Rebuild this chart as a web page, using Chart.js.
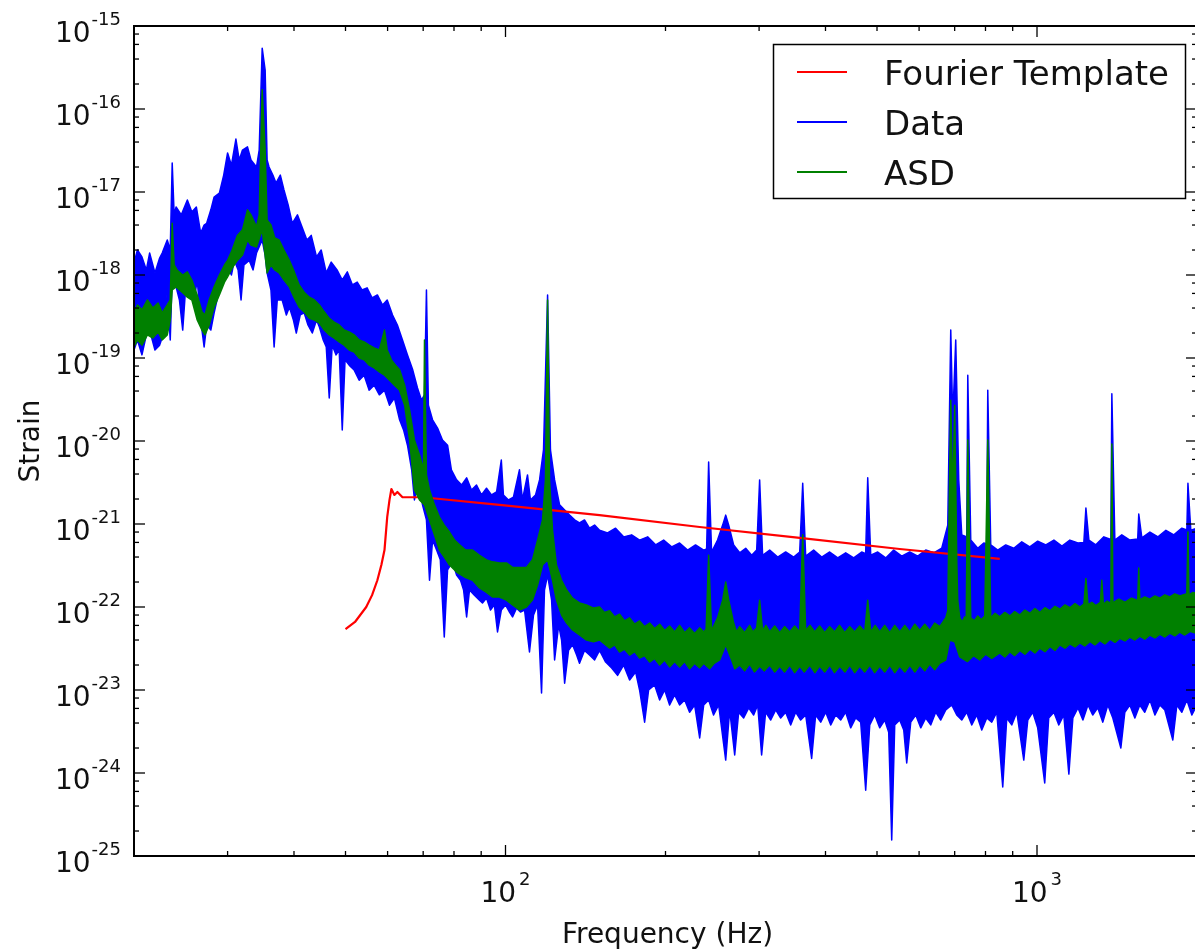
<!DOCTYPE html>
<html>
<head>
<meta charset="utf-8">
<script src="https://cdn.jsdelivr.net/npm/chart.js@4.4.1/dist/chart.umd.min.js"></script>
<style>
html,body{margin:0;padding:0;overflow:hidden;background:#fff;width:1195px;height:951px}
#wrap{position:absolute;left:0;top:0;width:1230px;height:951px}
canvas{display:block}
</style>
</head>
<body>
<div id="wrap"><canvas id="c" width="1230" height="951" style="width:1230px;height:951px"></canvas></div>
<script>
// ---- series labels / colours ----
const seriesLabels = ['Fourier Template', 'Data', 'ASD'];
const seriesColors = ['#ff0000', '#0000ff', '#008000'];

// ---- ticks ----
const xMajorTicks = [100, 1000];
const xTickExponents = ['2', '3'];
const xMinorTicks = [20, 30, 40, 50, 60, 70, 80, 90, 200, 300, 400, 500, 600, 700, 800, 900, 2000];
const yTickExponents = [-15, -16, -17, -18, -19, -20, -21, -22, -23, -24, -25];
const yMinorMantissas = [2, 4, 6, 8];
const xLimits = [20, 2000];
const yLimits = [1e-25, 1e-15];

// ---- Fourier Template [Hz, strain] ----
const templatePoints = [[50,5.4e-23],[52.1,6.6e-23],[54.7,1.0e-22],[56.1,1.39e-22],[57.4,2.1e-22],[58.4,3.2e-22],[59.2,4.85e-22],[59.9,1.21e-21],[60.5,1.95e-21],[61.0,2.64e-21],[61.8,2.24e-21],[62.6,2.43e-21],[64.0,2.1e-21],[69.8,2.1e-21],[97.4,1.7e-21],[150.3,1.28e-21],[231.9,9.2e-22],[357.7,6.8e-22],[551.7,5.0e-22],[851,3.8e-22]];

// ---- Data: upper and lower envelope of the noisy spectrum [Hz, strain] ----
const dataUpper = [[20,1.4e-18],[20.3,2.0e-18],[20.7,1.65e-18],[21.1,1.15e-18],[21.4,1.84e-18],[21.9,1.06e-18],[22.35,1.6e-18],[22.6,1.84e-18],[23.1,2.64e-18],[23.4,2.0e-18],[23.6,2.24e-17],[23.8,5.3e-18],[24.0,6.6e-18],[24.55,5.3e-18],[25.2,8.0e-18],[25.7,5.75e-18],[26.2,6.6e-18],[26.7,3.2e-18],[27.1,4.0e-18],[27.4,4.2e-18],[27.9,6.1e-18],[28.3,8.7e-18],[28.95,9.7e-18],[29.5,1.6e-17],[30.0,2.95e-17],[30.5,2.1e-17],[31.1,4.35e-17],[31.55,2.43e-17],[32.0,3.2e-17],[32.7,3.5e-17],[33.2,2.43e-17],[34.0,2.0e-17],[34.4,3.2e-17],[34.85,5.4e-16],[35.3,2.95e-16],[35.6,2.43e-17],[35.9,2.0e-17],[36.5,1.6e-17],[37.0,1.28e-17],[37.7,1.6e-17],[38.3,1.06e-17],[39.0,7.0e-18],[39.7,4.2e-18],[40.6,5.3e-18],[41.4,3.8e-18],[42.3,2.64e-18],[43.1,3.0e-18],[44.1,1.65e-18],[45.0,2.0e-18],[46.0,1.06e-18],[47.0,1.43e-18],[48.2,1.15e-18],[49.3,8.7e-19],[50.4,1.09e-18],[51.5,7.6e-19],[52.6,8.2e-19],[53.7,6.6e-19],[54.9,7.0e-19],[56.1,5.3e-19],[57.4,5.75e-19],[58.7,4.35e-19],[59.9,5.0e-19],[61.3,3.3e-19],[62.6,2.5e-19],[64.0,1.65e-19],[65.4,1.09e-19],[66.9,7.2e-20],[68.3,4.35e-20],[69.5,3.1e-20],[70.4,3.6e-20],[71.0,6.6e-19],[71.6,2.7e-20],[72.9,1.8e-20],[74.5,1.43e-20],[76.1,1.03e-20],[77.8,8.9e-21],[79.1,4.5e-21],[80.9,3.4e-21],[82.7,2.95e-21],[84.5,3.6e-21],[86.3,2.57e-21],[88.2,2.95e-21],[90.1,2.24e-21],[92.1,2.7e-21],[94.1,2.24e-21],[96.2,2.43e-21],[98.2,5.9e-21],[99.1,2.24e-21],[101.3,1.95e-21],[103.5,2.1e-21],[106.25,4.5e-21],[107.6,1.95e-21],[110.0,3.9e-21],[111.4,1.95e-21],[113.9,2.24e-21],[115.9,3.4e-21],[117.9,7.8e-21],[120.0,5.75e-19],[121.5,7.8e-21],[123.7,3.4e-21],[126.4,1.7e-21],[129.2,1.47e-21],[132.0,1.28e-21],[134.9,1.12e-21],[137.8,1.03e-21],[140.8,1.12e-21],[143.9,8.9e-22],[147.1,9.7e-22],[150.3,8.4e-22],[155.6,7.8e-22],[161.1,8.9e-22],[166.8,7.0e-22],[172.7,7.4e-22],[178.75,6.4e-22],[185.1,7.0e-22],[191.6,5.6e-22],[198.4,6.4e-22],[205.4,5.3e-22],[212.6,5.9e-22],[220.1,4.85e-22],[227.8,5.6e-22],[236.0,4.85e-22],[239.0,5.0e-22],[241.1,5.6e-21],[244.2,4.6e-22],[250.6,6.4e-22],[256.2,9.7e-22],[259.6,1.28e-21],[263.0,9.7e-22],[268.7,5.6e-22],[275.8,4.5e-22],[283.1,5.1e-22],[290.5,4.2e-22],[296.9,4.85e-22],[300.7,3.4e-21],[304.6,4.2e-22],[314.1,4.85e-22],[325.2,4.0e-22],[336.6,4.6e-22],[348.5,4.0e-22],[357.7,4.6e-22],[362.4,3.1e-21],[367.1,4.1e-22],[380.0,4.85e-22],[393.5,4.0e-22],[407.4,4.6e-22],[421.8,3.9e-22],[436.6,4.5e-22],[452.0,3.9e-22],[467.9,4.6e-22],[476.0,4.4e-22],[480.3,3.6e-21],[486.6,4.2e-22],[501.6,4.6e-22],[519.2,3.9e-22],[537.5,4.85e-22],[556.5,4.1e-22],[576.2,4.6e-22],[596.5,4.1e-22],[617.5,4.85e-22],[639.3,4.5e-22],[661.9,5.1e-22],[679.4,9.7e-22],[688.2,2.17e-19],[694.2,1.8e-20],[703.2,1.65e-19],[712.5,3.4e-21],[721.8,7.4e-22],[737.6,7.0e-22],[740.9,6.2e-20],[750.5,6.4e-22],[773.7,5.1e-22],[794.1,5.9e-22],[804.4,5.8e-22],[807.9,4.1e-20],[818.4,5.6e-22],[843.7,4.85e-22],[873.4,5.6e-22],[904.3,5.1e-22],[936.2,6.1e-22],[969.2,5.3e-22],[1003,6.2e-22],[1039,5.6e-22],[1076,6.4e-22],[1114,5.4e-22],[1153,6.4e-22],[1194,5.9e-22],[1225,6.0e-22],[1236,1.56e-21],[1252,6.4e-22],[1290,5.6e-22],[1336,7.0e-22],[1377,6.5e-22],[1383,3.7e-20],[1401,6.4e-22],[1444,7.4e-22],[1495,6.4e-22],[1547,6.6e-22],[1554,1.32e-21],[1575,6.8e-22],[1631,8.0e-22],[1689,7.0e-22],[1748,8.4e-22],[1809,7.4e-22],[1873,8.9e-22],[1914,8.5e-22],[1923,3.1e-21],[1947,8.4e-22],[2000,8.9e-22]];

const dataLower = [[20,1.25e-19],[20.3,1.65e-19],[20.7,1.09e-19],[21.1,1.9e-19],[21.4,2.17e-19],[21.9,1.25e-19],[22.35,1.43e-19],[22.85,2.17e-19],[23.1,6.6e-19],[23.4,1.65e-19],[23.6,1.0e-18],[24.0,7.2e-19],[24.35,5.0e-19],[24.7,2.17e-19],[25.0,6.6e-19],[25.4,7.2e-19],[25.95,5.0e-19],[26.3,8.7e-19],[26.7,2.87e-19],[27.1,1.36e-19],[27.4,2.5e-19],[27.9,2.17e-19],[28.3,3.5e-19],[28.8,5.75e-19],[29.2,1.06e-18],[30.0,1.25e-18],[30.5,1.0e-18],[30.9,1.5e-18],[31.4,1.15e-18],[31.8,5.0e-19],[32.2,1.32e-18],[32.95,1.5e-18],[33.5,1.15e-18],[34.0,1.84e-18],[34.85,2.64e-18],[35.3,1.74e-18],[35.6,1.06e-18],[36.2,6.6e-19],[36.7,1.36e-19],[37.2,5.0e-19],[38.0,5.0e-19],[38.7,3.3e-19],[39.2,4.1e-19],[39.9,2.87e-19],[40.4,2.0e-19],[41.1,3.3e-19],[41.8,3.5e-19],[42.5,2.5e-19],[43.3,2.0e-19],[44.1,2.87e-19],[44.65,2.36e-19],[45.4,1.65e-19],[46.0,1.36e-19],[46.6,3.3e-20],[47.2,1.43e-19],[48.0,1.09e-19],[48.65,1.25e-19],[49.3,1.36e-20],[49.9,9.5e-20],[50.8,8.2e-20],[51.9,7.2e-20],[53.05,5.4e-20],[54.2,6.2e-20],[55.4,4.1e-20],[56.6,4.7e-20],[57.9,3.6e-20],[59.2,4.1e-20],[60.5,2.7e-20],[61.8,3.3e-20],[63.2,1.8e-20],[64.3,1.36e-20],[65.4,8.9e-21],[66.6,4.5e-21],[67.4,1.95e-21],[68.6,3.4e-21],[69.8,1.7e-21],[71.0,1.12e-21],[71.95,2.1e-22],[72.9,6.4e-22],[74.2,4.85e-22],[75.4,3.7e-22],[76.7,4.35e-23],[77.8,2.8e-22],[79.5,3.5e-22],[80.9,2.43e-22],[82.3,2.1e-22],[83.4,1.6e-22],[84.5,7.6e-23],[85.55,1.6e-22],[87.4,1.39e-22],[89.35,1.21e-22],[90.5,1.12e-22],[92.1,1.28e-22],[93.7,9.2e-23],[95.3,1.06e-22],[96.6,5.0e-23],[98.2,9.2e-23],[100,1.06e-22],[101.75,8.7e-23],[103.1,7.6e-23],[104.9,9.7e-23],[106.7,8.7e-23],[108.6,9.2e-23],[110.95,2.87e-23],[112.9,8.0e-23],[114.9,1.06e-22],[116.9,9.2e-24],[118.4,1.6e-22],[120.0,2.43e-22],[122.1,1.21e-22],[123.7,2.3e-23],[125.9,6.1e-23],[127.5,4.0e-23],[129.2,1.21e-23],[131.4,3.0e-23],[133.7,3.5e-23],[136.1,2.64e-23],[137.8,2.1e-23],[140.8,3.0e-23],[143.9,2.64e-23],[147.1,2.3e-23],[150.3,3.0e-23],[154.3,2.17e-23],[158.4,1.84e-23],[162.5,1.5e-23],[166.8,2.0e-23],[171.2,1.32e-23],[175.7,1.65e-23],[178.75,1.0e-23],[182.7,4.1e-24],[185.9,1.0e-23],[190.8,1.15e-23],[195.0,7.6e-24],[199.3,1.0e-23],[203.6,6.6e-24],[208.1,8.7e-24],[212.6,6.6e-24],[217.3,7.6e-24],[222.0,5.4e-24],[226.9,6.6e-24],[231.9,2.64e-24],[236.0,6.6e-24],[241.1,7.6e-24],[246.3,5.0e-24],[251.8,6.6e-24],[259.6,1.43e-24],[264.1,5.75e-24],[269.9,1.65e-24],[274.6,5.4e-24],[280.6,4.6e-24],[286.8,6.1e-24],[293.0,5.0e-24],[298.2,6.6e-24],[303.3,1.65e-24],[308.6,5.4e-24],[315.5,4.35e-24],[322.4,5.75e-24],[329.4,4.6e-24],[336.6,5.4e-24],[344.0,3.8e-24],[351.5,5.4e-24],[359.2,4.35e-24],[367.1,5.0e-24],[376.7,1.5e-24],[383.3,5.0e-24],[391.8,4.1e-24],[400.4,5.4e-24],[409.2,3.8e-24],[418.1,5.0e-24],[427.2,4.35e-24],[436.6,5.4e-24],[446.1,3.5e-24],[455.9,4.6e-24],[465.9,4.1e-24],[476.1,6.2e-25],[484.5,3.8e-24],[495.1,5.0e-24],[505.9,3.5e-24],[517.0,4.35e-24],[526.0,3.1e-24],[532.9,1.56e-25],[539.9,3.8e-24],[551.7,4.35e-24],[561.4,3.3e-24],[568.7,1.32e-24],[578.7,4.1e-24],[591.4,5.0e-24],[604.3,3.5e-24],[617.5,4.6e-24],[631.0,3.8e-24],[644.8,5.4e-24],[659.0,4.35e-24],[673.5,5.75e-24],[691.2,6.6e-24],[706.3,5.0e-24],[721.8,4.35e-24],[737.6,5.4e-24],[753.8,3.8e-24],[770.3,5.0e-24],[787.2,3.3e-24],[804.4,4.6e-24],[822.0,4.1e-24],[840.0,5.4e-24],[862.1,6.8e-25],[877.2,4.6e-24],[896.4,3.8e-24],[916.1,5.4e-24],[944.3,1.43e-24],[960.9,4.35e-24],[981.9,5.4e-24],[1003,3.5e-24],[1034,7.6e-25],[1052,4.6e-24],[1076,5.4e-24],[1099,3.8e-24],[1123,5.0e-24],[1148,9.7e-25],[1168,4.6e-24],[1194,6.1e-24],[1220,4.35e-24],[1247,6.6e-24],[1273,5.0e-24],[1301,6.1e-24],[1330,4.1e-24],[1359,6.6e-24],[1389,4.6e-24],[1438,2.0e-24],[1463,5.4e-24],[1495,6.6e-24],[1528,4.6e-24],[1561,6.6e-24],[1595,5.4e-24],[1631,7.6e-24],[1667,5.0e-24],[1703,6.6e-24],[1740,5.75e-24],[1801,2.5e-24],[1833,6.6e-24],[1873,5.4e-24],[1914,7.6e-24],[1956,5.0e-24],[2000,6.6e-24]];

// ---- ASD: upper and lower edge of the band [Hz, strain] ----
const asdUpper = [[20,3.5e-19],[20.3,4.35e-19],[20.7,3.8e-19],[21.2,5.0e-19],[21.7,4.0e-19],[22.2,4.6e-19],[22.6,3.5e-19],[23.1,4.35e-19],[23.4,5.0e-19],[23.6,4.2e-18],[23.8,1.32e-18],[24.1,1.15e-18],[24.7,1.0e-18],[25.2,1.09e-18],[25.7,8.7e-19],[26.3,5.75e-19],[26.85,3.6e-19],[27.2,3.3e-19],[27.7,5.0e-19],[28.3,7.2e-19],[28.95,1.0e-18],[29.6,1.32e-18],[30.0,1.5e-18],[30.6,2.0e-18],[31.3,3.0e-18],[32.0,3.5e-18],[32.7,6.1e-18],[33.2,5.3e-18],[34.0,3.8e-18],[34.4,5.3e-18],[34.85,1.7e-16],[35.3,3.2e-17],[35.6,4.6e-18],[36.2,4.0e-18],[36.8,2.8e-18],[37.5,2.64e-18],[38.3,2.0e-18],[39.2,1.5e-18],[40.05,1.09e-18],[40.9,7.6e-19],[41.8,6.2e-19],[42.75,5.4e-19],[43.7,5.0e-19],[44.65,4.35e-19],[45.6,3.6e-19],[46.6,3.0e-19],[47.6,2.7e-19],[48.65,2.5e-19],[49.7,2.17e-19],[50.8,2.06e-19],[51.9,1.9e-19],[53.05,1.65e-19],[54.2,1.56e-19],[55.4,1.43e-19],[56.6,1.32e-19],[57.9,1.25e-19],[59.2,2.17e-19],[59.9,1.25e-19],[61.0,9.5e-20],[62.1,8.2e-20],[63.2,7.2e-20],[64.6,4.7e-20],[66.0,2.36e-20],[67.4,1.03e-20],[68.9,6.8e-21],[70.1,4.5e-21],[70.4,1.65e-19],[71.0,3.9e-21],[71.95,2.57e-21],[73.5,1.7e-21],[75.1,1.21e-21],[76.7,9.7e-22],[78.45,8.0e-22],[80.2,6.4e-22],[81.95,5.6e-22],[84.1,4.85e-22],[86.7,4.85e-22],[89.35,4.2e-22],[92.1,3.7e-22],[94.5,3.5e-22],[97.4,3.4e-22],[100.4,3.4e-22],[103.1,3.0e-22],[106.25,3.0e-22],[109.5,3.0e-22],[112.4,3.7e-22],[114.9,6.4e-22],[117.4,1.12e-21],[118.9,3.4e-21],[120.0,5.0e-19],[121.0,3.4e-21],[122.6,8.4e-22],[124.7,3.2e-22],[127.5,2.1e-22],[130.3,1.6e-22],[133.7,1.28e-22],[137.8,1.12e-22],[142.0,1.06e-22],[146.4,9.7e-23],[150.3,1.0e-22],[153.5,8.6e-23],[157.0,9.0e-23],[160.5,7.6e-23],[163.9,8.2e-23],[167.5,6.8e-23],[171.2,7.4e-23],[175,6.2e-23],[178.75,6.8e-23],[182.7,5.8e-23],[186.7,6.4e-23],[190.8,5.5e-23],[195.0,6.2e-23],[199.3,5.2e-23],[203.6,5.9e-23],[208.1,5.0e-23],[212.6,6.0e-23],[217.3,4.9e-23],[222.0,5.6e-23],[226.9,4.8e-23],[231.9,5.6e-23],[236.0,5.0e-23],[238.5,5.4e-23],[241.1,4.2e-22],[244.2,5.2e-23],[250.6,7.4e-23],[256.2,1.21e-22],[259.6,2.0e-22],[263.0,1.21e-22],[268.7,6.4e-23],[272,5.0e-23],[275.8,5.8e-23],[281.8,4.9e-23],[288.0,6.0e-23],[292,5.0e-23],[296.9,5.6e-23],[300.7,1.21e-22],[304.6,5.2e-23],[309,6.0e-23],[314.1,5.0e-23],[321,5.9e-23],[328.0,4.9e-23],[335,5.8e-23],[342.5,5.0e-23],[350,5.9e-23],[357.7,5.0e-23],[362.4,7.4e-22],[367.1,5.2e-23],[374,6.0e-23],[381.7,5.0e-23],[390,5.9e-23],[398.6,4.9e-23],[407,5.8e-23],[416.3,5.0e-23],[425,6.0e-23],[434.7,4.9e-23],[444,5.8e-23],[453.9,5.0e-23],[464,5.9e-23],[474.1,5.0e-23],[480.3,1.21e-22],[486.6,5.0e-23],[496,6.0e-23],[505.9,5.0e-23],[517,6.0e-23],[528.3,4.9e-23],[540,6.0e-23],[551.7,5.0e-23],[564,6.0e-23],[576.2,5.0e-23],[589,6.2e-23],[601.7,5.2e-23],[615,6.2e-23],[628.3,5.2e-23],[642,6.4e-23],[656.2,5.8e-23],[673.5,7.4e-23],[679.4,9.0e-23],[682.2,6.4e-22],[688.2,3.1e-20],[694.2,1.95e-21],[700.2,2.7e-20],[706.3,3.7e-22],[709.3,1.2e-22],[715.6,7.4e-23],[723,6.6e-23],[731.3,7.6e-23],[736,7.0e-23],[740.9,1.03e-20],[750.5,7.4e-23],[762,6.8e-23],[773.7,7.8e-23],[785,7.0e-23],[797.5,7.8e-23],[807.9,1.03e-20],[818.4,7.4e-23],[834,8.4e-23],[851.0,7.6e-23],[870,8.6e-23],[889,7.8e-23],[908,8.8e-23],[928.1,8.0e-23],[949,9.2e-23],[970,8.4e-23],[991,9.6e-23],[1012,8.6e-23],[1035,9.8e-23],[1058,9.0e-23],[1081,1.02e-22],[1104,9.4e-23],[1129,1.06e-22],[1153,9.8e-23],[1179,1.1e-22],[1204,1.0e-22],[1225,1.08e-22],[1236,2.2e-22],[1247,1.06e-22],[1268,1.14e-22],[1290,1.04e-22],[1316,1.14e-22],[1324,2.1e-22],[1333,1.08e-22],[1355,1.18e-22],[1377,1.1e-22],[1383,9.2e-21],[1389,1.12e-22],[1425,1.24e-22],[1463,1.14e-22],[1505,1.28e-22],[1547,1.2e-22],[1554,2.95e-22],[1561,1.22e-22],[1595,1.32e-22],[1631,1.24e-22],[1667,1.36e-22],[1703,1.28e-22],[1740,1.4e-22],[1778,1.32e-22],[1817,1.44e-22],[1857,1.36e-22],[1914,1.45e-22],[1923,8.0e-22],[1931,1.4e-22],[1965,1.5e-22],[2000,1.45e-22]];

const asdLower = [[20,1.36e-19],[20.3,1.65e-19],[20.7,1.43e-19],[21.2,1.9e-19],[21.7,1.74e-19],[22.2,2.06e-19],[22.6,1.65e-19],[23.1,1.9e-19],[23.4,2.87e-19],[23.6,6.6e-19],[24.0,7.2e-19],[24.7,6.1e-19],[25.2,5.4e-19],[25.7,5.0e-19],[26.3,2.87e-19],[26.85,2.17e-19],[27.2,1.9e-19],[27.7,2.5e-19],[28.3,4.1e-19],[28.95,5.75e-19],[29.6,8.2e-19],[30.0,9.5e-19],[30.6,1.21e-18],[31.3,1.5e-18],[32.0,1.74e-18],[32.7,2.64e-18],[33.2,2.3e-18],[34.0,2.17e-18],[34.85,3.5e-18],[35.6,1.06e-18],[36.2,1.32e-18],[36.8,1.15e-18],[37.5,1.06e-18],[38.3,8.7e-19],[39.2,7.2e-19],[40.05,5.3e-19],[40.9,4.1e-19],[41.8,3.6e-19],[42.75,3.0e-19],[43.7,2.87e-19],[44.65,2.64e-19],[45.6,2.17e-19],[46.6,1.9e-19],[47.6,1.74e-19],[48.65,1.56e-19],[49.7,1.43e-19],[50.8,1.25e-19],[51.9,1.18e-19],[53.05,1.0e-19],[54.2,9.5e-20],[55.4,8.2e-20],[56.6,7.6e-20],[57.9,6.8e-20],[59.2,6.2e-20],[60.5,5.4e-20],[61.8,4.7e-20],[63.2,4.1e-20],[64.6,2.7e-20],[66.0,1.03e-20],[67.4,2.57e-21],[68.9,1.95e-21],[70.4,1.7e-21],[71.95,1.12e-21],[73.5,7.4e-22],[75.1,4.85e-22],[76.7,4.0e-22],[78.45,3.2e-22],[80.9,2.64e-22],[83.7,2.3e-22],[86.7,2.1e-22],[89.35,1.7e-22],[92.1,1.5e-22],[94.5,1.32e-22],[97.4,1.32e-22],[100.4,1.21e-22],[103.1,1.06e-22],[106.25,9.2e-23],[109.5,1.0e-22],[112.4,1.21e-22],[114.9,1.84e-22],[117.4,3.2e-22],[120.0,3.7e-22],[122.6,2.1e-22],[124.7,1.21e-22],[127.5,8.0e-23],[130.3,6.4e-23],[133.7,5.3e-23],[137.8,4.6e-23],[142.0,4.0e-23],[146.4,3.8e-23],[150.3,4.0e-23],[157.0,3.2e-23],[160.5,3.5e-23],[163.9,2.87e-23],[167.5,3.1e-23],[171.2,2.64e-23],[175,2.9e-23],[178.75,2.43e-23],[182.7,2.6e-23],[186.7,2.17e-23],[190.8,2.4e-23],[195.0,2.0e-23],[199.3,2.3e-23],[203.6,1.9e-23],[208.1,2.2e-23],[212.6,1.9e-23],[217.3,2.2e-23],[222.0,1.8e-23],[226.9,2.1e-23],[231.9,1.85e-23],[236,2.1e-23],[242.1,1.8e-23],[247,2.1e-23],[252.9,2.3e-23],[259.6,3.5e-23],[266.4,2.3e-23],[270,1.8e-23],[275.8,2.0e-23],[281.8,1.7e-23],[288.0,2.05e-23],[294,1.65e-23],[300.7,1.95e-23],[307,1.7e-23],[314.1,2.0e-23],[321,1.65e-23],[328.0,1.95e-23],[335,1.65e-23],[342.5,2.0e-23],[350,1.62e-23],[357.7,1.95e-23],[365,1.65e-23],[373.5,2.0e-23],[382,1.62e-23],[390.1,1.95e-23],[398.6,1.65e-23],[407.4,2.0e-23],[416,1.62e-23],[425.4,1.95e-23],[435,1.65e-23],[444.2,2.0e-23],[454,1.62e-23],[463.9,1.95e-23],[474,1.65e-23],[484.5,2.0e-23],[495,1.62e-23],[505.9,1.95e-23],[517,1.65e-23],[528.3,2.0e-23],[540,1.62e-23],[551.7,1.95e-23],[564,1.65e-23],[576.2,2.0e-23],[589,1.65e-23],[601.7,2.0e-23],[615,1.7e-23],[628.3,2.05e-23],[642,1.75e-23],[656.2,2.1e-23],[673.5,2.3e-23],[685.2,4.0e-23],[700.2,3.8e-23],[715.6,2.5e-23],[740,2.2e-23],[760,2.6e-23],[780.4,2.3e-23],[800,2.7e-23],[822,2.4e-23],[851.0,2.8e-23],[870,2.5e-23],[889,2.9e-23],[908,2.6e-23],[928.1,3.0e-23],[949,2.7e-23],[970,3.1e-23],[991,2.8e-23],[1012,3.2e-23],[1035,2.9e-23],[1058,3.35e-23],[1081,3.0e-23],[1104,3.5e-23],[1129,3.2e-23],[1153,3.6e-23],[1179,3.3e-23],[1204,3.7e-23],[1230,3.4e-23],[1258,3.85e-23],[1285,3.5e-23],[1313,3.95e-23],[1342,3.6e-23],[1372,4.1e-23],[1402,3.75e-23],[1432,4.2e-23],[1464,3.9e-23],[1496,4.35e-23],[1528,4.0e-23],[1561,4.45e-23],[1595,4.1e-23],[1631,4.6e-23],[1667,4.25e-23],[1703,4.7e-23],[1740,4.35e-23],[1778,4.85e-23],[1817,4.5e-23],[1857,5.0e-23],[1897,4.6e-23],[1940,5.1e-23],[2000,4.8e-23]];

const toXY = arr => arr.map(p => ({x: p[0], y: p[1]}));

const FONT = '"DejaVu Sans", "Bitstream Vera Sans", sans-serif';

const mplFrame = {
  id: 'mplFrame',
  afterDatasetsDraw(chart) {
    const {ctx, chartArea: a} = chart;
    const xs = chart.scales.x, ys = chart.scales.y;
    ctx.save();
    ctx.strokeStyle = '#000';
    ctx.lineWidth = 1.3;
    const seg = (x1, y1, x2, y2) => { ctx.beginPath(); ctx.moveTo(x1, y1); ctx.lineTo(x2, y2); ctx.stroke(); };
    const MAJ = 11, MIN = 5;
    xMajorTicks.forEach(v => { const p = xs.getPixelForValue(v); seg(p, a.bottom, p, a.bottom - MAJ); seg(p, a.top, p, a.top + MAJ); });
    xMinorTicks.forEach(v => { const p = xs.getPixelForValue(v); seg(p, a.bottom, p, a.bottom - MIN); seg(p, a.top, p, a.top + MIN); });
    yTickExponents.forEach(e => { const p = ys.getPixelForValue(Math.pow(10, e)); seg(a.left, p, a.left + MAJ, p); seg(a.right, p, a.right - MAJ, p); });
    yTickExponents.slice(1).forEach(e => {
      yMinorMantissas.forEach(m => {
        const p = ys.getPixelForValue(m * Math.pow(10, e));
        seg(a.left, p, a.left + MIN, p); seg(a.right, p, a.right - MIN, p);
      });
    });
    ctx.lineWidth = 2;
    ctx.strokeRect(a.left, a.top, a.right - a.left, a.bottom - a.top);

    // tick labels with superscripts
    ctx.fillStyle = '#111';
    ctx.textBaseline = 'alphabetic';
    const base = '28px ' + FONT, sup = '18px ' + FONT;
    xMajorTicks.forEach((v, i) => {
      const p = xs.getPixelForValue(v);
      ctx.font = base; const w1 = ctx.measureText('10').width;
      ctx.font = sup; const w2 = ctx.measureText(xTickExponents[i]).width;
      const gap = 3, start = p - (w1 + gap + w2) / 2;
      ctx.textAlign = 'left';
      ctx.font = base; ctx.fillText('10', start, a.bottom + 46);
      ctx.font = sup; ctx.fillText(xTickExponents[i], start + w1 + gap, a.bottom + 29);
    });
    yTickExponents.forEach(e => {
      const p = ys.getPixelForValue(Math.pow(10, e));
      const s = String(e);
      const right = a.left - 13;
      ctx.textAlign = 'right';
      ctx.font = sup; ctx.fillText(s, right, p - 1);
      const w2 = ctx.measureText(s).width;
      ctx.font = base; ctx.fillText('10', right - w2 - 1, p + 16);
    });

    // axis titles
    ctx.font = '28px ' + FONT;
    ctx.textAlign = 'center';
    ctx.fillText('Frequency (Hz)', (a.left + a.right) / 2 + 2, a.bottom + 87);
    ctx.save();
    ctx.translate(39, (a.top + a.bottom) / 2);
    ctx.rotate(-Math.PI / 2);
    ctx.fillText('Strain', 0, 0);
    ctx.restore();
    ctx.restore();
  },
  afterDraw(chart) {
    const {ctx} = chart;
    ctx.save();
    const bx = 773.5, by = 44.5, bw = 412, bh = 154;
    ctx.fillStyle = '#fff';
    ctx.fillRect(bx, by, bw, bh);
    ctx.strokeStyle = '#000';
    ctx.lineWidth = 1.5;
    ctx.strokeRect(bx, by, bw, bh);
    ctx.font = '34px ' + FONT;
    ctx.textAlign = 'left';
    ctx.textBaseline = 'alphabetic';
    seriesLabels.forEach((lab, i) => {
      const yy = 72 + i * 50;
      ctx.strokeStyle = seriesColors[i];
      ctx.lineWidth = 2;
      ctx.beginPath(); ctx.moveTo(797, yy); ctx.lineTo(847, yy); ctx.stroke();
      ctx.fillStyle = '#111';
      ctx.fillText(lab, 884, yy + 13);
    });
    ctx.restore();
  }
};

new Chart(document.getElementById('c'), {
  type: 'line',
  data: {
    datasets: [
      { label: seriesLabels[0], data: toXY(templatePoints), borderColor: seriesColors[0], borderWidth: 2.2, pointRadius: 0, fill: false, order: 1.5 },
      { label: seriesLabels[1], data: toXY(dataUpper), borderColor: seriesColors[1], backgroundColor: seriesColors[1], borderWidth: 1.5, pointRadius: 0, fill: '+1', order: 2 },
      { label: seriesLabels[1] + ' lower', data: toXY(dataLower), borderColor: seriesColors[1], borderWidth: 1.5, pointRadius: 0, fill: false, order: 2 },
      { label: seriesLabels[2], data: toXY(asdUpper), borderColor: seriesColors[2], backgroundColor: seriesColors[2], borderWidth: 1.5, pointRadius: 0, fill: '+1', order: 1 },
      { label: seriesLabels[2] + ' lower', data: toXY(asdLower), borderColor: seriesColors[2], borderWidth: 1.5, pointRadius: 0, fill: false, order: 1 }
    ]
  },
  options: {
    responsive: false,
    animation: false,
    devicePixelRatio: 1,
    layout: { padding: { left: 134, top: 26, right: 33, bottom: 95 } },
    scales: {
      x: { type: 'logarithmic', min: xLimits[0], max: xLimits[1], display: false },
      y: { type: 'logarithmic', min: yLimits[0], max: yLimits[1], display: false }
    },
    plugins: { legend: { display: false }, tooltip: { enabled: false } },
    elements: { line: { tension: 0, borderJoinStyle: 'round' } }
  },
  plugins: [mplFrame]
});
</script>
</body>
</html>
